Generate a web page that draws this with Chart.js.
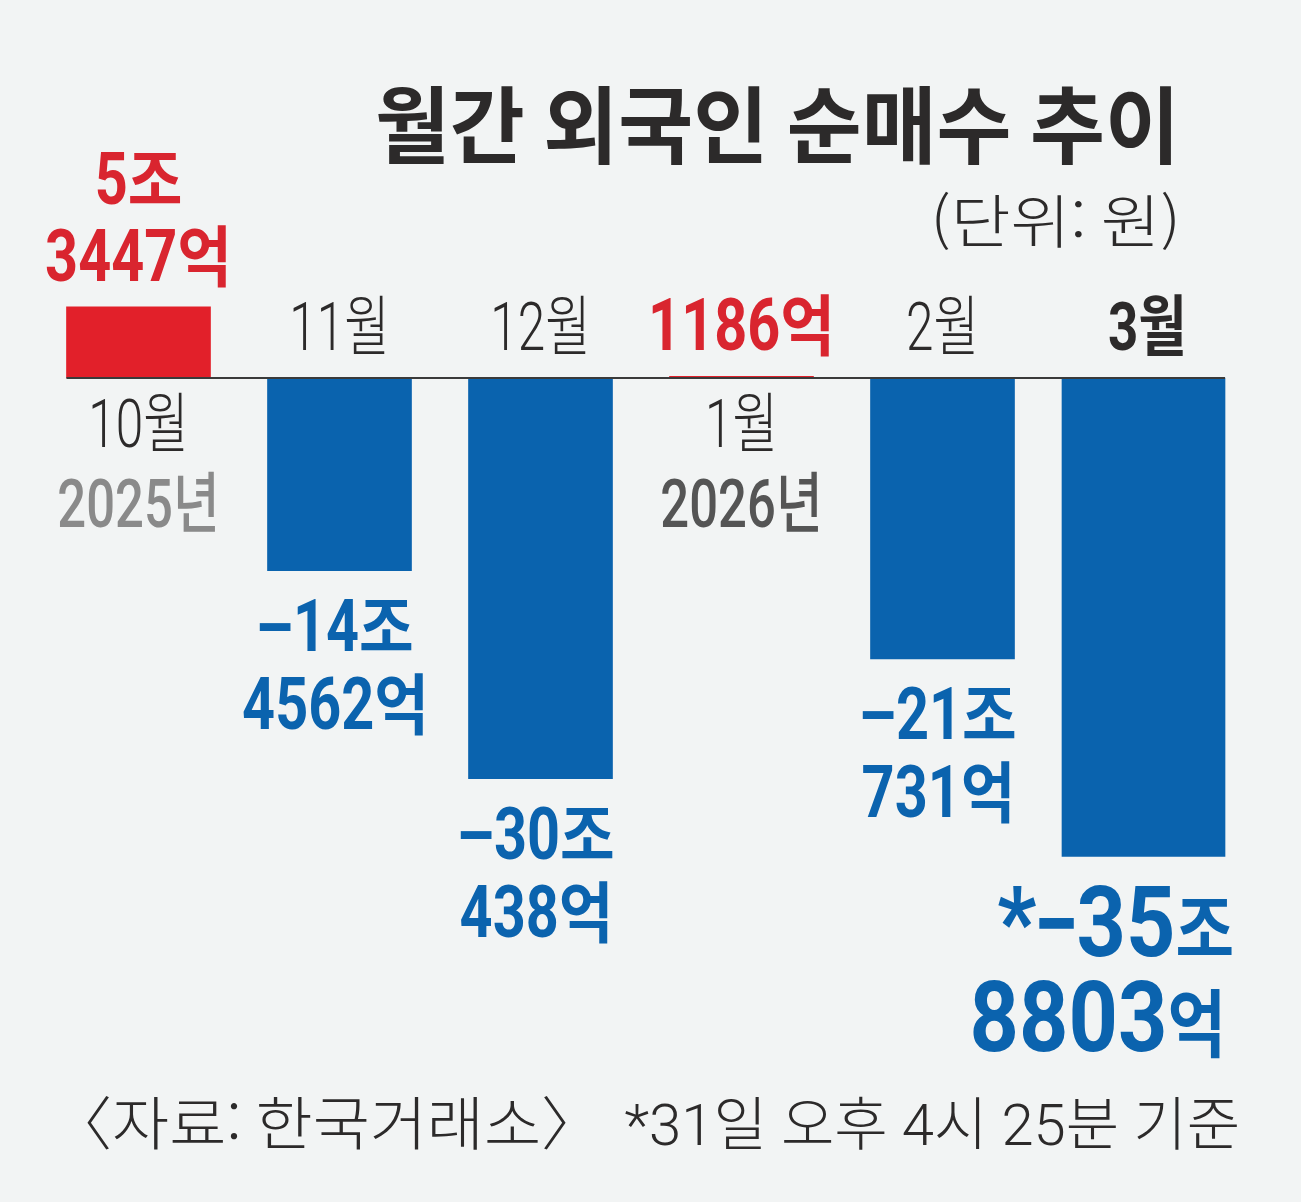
<!DOCTYPE html>
<html lang="ko">
  <head>
    <meta charset="UTF-8" />
    <title>월간 외국인 순매수 추이</title>
    <script src="https://cdn.jsdelivr.net/npm/chart.js"></script>
    <style>
      html, body { margin: 0; padding: 0; background: #f2f4f4; }
      #wrap { width: 1301px; height: 1202px; }
    </style>
  </head>
  <body>
    <div id="wrap"><canvas id="netBuyChart" width="1301" height="1202"></canvas></div>

    <script>
      // 데이터 (단위: 억 원)
      const months = ["10월", "11월", "12월", "1월", "2월", "3월"];
      const years = ["2025년", "", "", "2026년", "", ""];
      const netBuy = [53447, -144562, -300438, 1186, -210731, -358803];
      const highlight = [false, false, false, false, false, true]; // 3월 (31일 오후 4시 25분 기준)

      const RED = "#e2202a";
      const BLUE = "#0a63ae";
      const RED_TXT = "#d9252f";
      const BLUE_TXT = "#0b63ae";
      const DARK = "#2c2a2a";

      // 억 단위 숫자를 "조 / 억" 두 줄로
      function splitWon(v) {
        const sign = v < 0 ? "\u2212" : "";
        const a = Math.abs(v);
        const jo = Math.floor(a / 10000);
        const eok = a % 10000;
        if (jo === 0) return ["", sign + eok + "억"];
        return [sign + jo + "조", eok + "억"];
      }

      function txt(ctx, s, x, y, font, color, align, sx) {
        ctx.save();
        ctx.font = font;
        ctx.fillStyle = color;
        ctx.textAlign = align || "center";
        ctx.textBaseline = "alphabetic";
        ctx.translate(x, y);
        ctx.scale(sx || 1, 1);
        ctx.fillText(s, 0, 0);
        ctx.restore();
      }

      // 숫자 / 한글 / 마이너스 글꼴을 따로 써서 한 줄 그리기
      function kind(ch) {
        if (ch === "\u2212") return "m";
        if (/[0-9*]/.test(ch)) return "d";
        return "h";
      }
      function runs(ctx, s, x, y, fonts, color, align) {
        const parts = [];
        for (const ch of s) {
          const k = kind(ch);
          if (parts.length && parts[parts.length - 1].k === k) parts[parts.length - 1].t += ch;
          else parts.push({ k: k, t: ch });
        }
        let total = 0;
        ctx.save();
        parts.forEach((p) => {
          ctx.font = fonts[p.k].f;
          p.w = ctx.measureText(p.t).width * fonts[p.k].sx;
          total += p.w;
        });
        let cx = align === "right" ? x - total : align === "left" ? x : x - total / 2;
        ctx.fillStyle = color;
        ctx.textAlign = "left";
        ctx.textBaseline = "alphabetic";
        parts.forEach((p) => {
          ctx.save();
          ctx.font = fonts[p.k].f;
          ctx.translate(cx, y);
          ctx.scale(fonts[p.k].sx, 1);
          ctx.fillText(p.t, 0, 0);
          ctx.restore();
          cx += p.w;
        });
        ctx.restore();
      }

      const LAT = "Roboto, 'Noto Sans CJK KR', sans-serif";
      const KR = "'Noto Sans CJK KR', sans-serif";

      const valFont = {
        d: { f: "bold 72px Roboto", sx: 0.8 },
        h: { f: "bold 66px 'Noto Sans CJK KR'", sx: 0.9 },
        m: { f: "bold 72px 'Liberation Sans'", sx: 0.85 },
      };
      const bigFont = {
        d: { f: "bold 98px Roboto", sx: 0.88 },
        h: { f: "bold 74px 'Noto Sans CJK KR'", sx: 0.86 },
        m: { f: "bold 98px 'Liberation Sans'", sx: 0.7 },
      };

      const bgPlugin = {
        id: "bg",
        beforeDraw(chart) {
          const c = chart.ctx;
          c.save();
          c.fillStyle = "#f2f4f4";
          c.fillRect(0, 0, chart.width, chart.height);
          c.restore();
        },
      };

      // 축선, 레이블, 제목 등
      const labelPlugin = {
        id: "labels",
        afterDatasetsDraw(chart) {
          const ctx = chart.ctx;
          const y = chart.scales.y;
          const zero = y.getPixelForValue(0);

          const bars = netBuy.map((v, i) => {
            const ds = highlight[i] ? 1 : 0;
            return chart.getDatasetMeta(ds).data[i];
          });

          // 기준선
          const first = bars[0], last = bars[bars.length - 1];
          ctx.save();
          ctx.strokeStyle = "#3a3a3a";
          ctx.lineWidth = 2;
          ctx.beginPath();
          ctx.moveTo(first.x - first.width / 2, zero);
          ctx.lineTo(last.x + last.width / 2, zero);
          ctx.stroke();
          ctx.restore();

          netBuy.forEach((v, i) => {
            const b = bars[i];
            const [l1, l2] = splitWon(v);
            const big = highlight[i];
            if (v >= 0) {
              // 양수: 값은 막대 위, 월은 축 아래
              const top = b.y;
              if (l1) runs(ctx, l1, b.x, top - 103, valFont, RED_TXT, "center");
              runs(ctx, l2, b.x, top - 26, valFont, RED_TXT, "center");
              txt(ctx, months[i], b.x, zero + 69, "300 66px " + LAT, DARK, "center", 0.75);
              if (years[i]) {
                const yc = i === 0 ? "#8a8a8a" : "#555555";
                txt(ctx, years[i], b.x, zero + 149, "500 66px " + LAT, yc, "center", 0.77);
              }
            } else {
              // 음수: 월은 축 위, 값은 막대 아래
              const bottom = b.y;
              if (big) {
                txt(ctx, months[i], b.x + 4, zero - 28, "bold 66px " + LAT, DARK, "center", 0.8);
                const rx = b.x + b.width / 2;
                runs(ctx, "*" + l1, rx + 9, bottom + 100, bigFont, BLUE_TXT, "right");
                runs(ctx, l2, rx + 1, bottom + 195, bigFont, BLUE_TXT, "right");
              } else {
                txt(ctx, months[i], b.x, zero - 28, "300 66px " + LAT, DARK, "center", 0.75);
                runs(ctx, l1, b.x - 4, bottom + 80, valFont, BLUE_TXT, "center");
                runs(ctx, l2, b.x - 4, bottom + 158, valFont, BLUE_TXT, "center");
              }
            }
          });

          // 제목, 단위, 출처
          txt(ctx, "월간 외국인 순매수 추이", 1180, 157, "bold 84px " + KR, DARK, "right", 0.97);
          txt(ctx, "(단위: 원)", 1181, 243, "300 58px " + KR, DARK, "right", 1.12);
          txt(ctx, "〈자료: 한국거래소〉", 50, 1145, "300 58px " + KR, DARK, "left", 1.07);
          txt(ctx, "*31일 오후 4시 25분 기준", 1240, 1145, "300 58px " + LAT, DARK, "right", 1.0);
        },
      };

      const ctx = document.getElementById("netBuyChart").getContext("2d");
      const chart = new Chart(ctx, {
        type: "bar",
        data: {
          labels: months,
          datasets: [
            {
              // 10월 ~ 2월
              data: netBuy.map((v, i) => (highlight[i] ? null : v)),
              backgroundColor: netBuy.map((v) => (v >= 0 ? RED : BLUE)),
              barThickness: 144,
              grouped: false,
              borderWidth: 0,
            },
            {
              // 3월 (강조)
              data: netBuy.map((v, i) => (highlight[i] ? v : null)),
              backgroundColor: BLUE,
              barThickness: 163,
              grouped: false,
              borderWidth: 0,
            },
          ],
        },
        options: {
          responsive: false,
          animation: false,
          layout: { padding: { left: 38, right: 57, top: 0, bottom: 0 } },
          plugins: {
            legend: { display: false },
            tooltip: { enabled: false },
          },
          scales: {
            x: { display: false, offset: true },
            y: { display: false, min: -618000, max: 283500 },
          },
        },
        plugins: [bgPlugin, labelPlugin],
      });
    </script>
  </body>
</html>
